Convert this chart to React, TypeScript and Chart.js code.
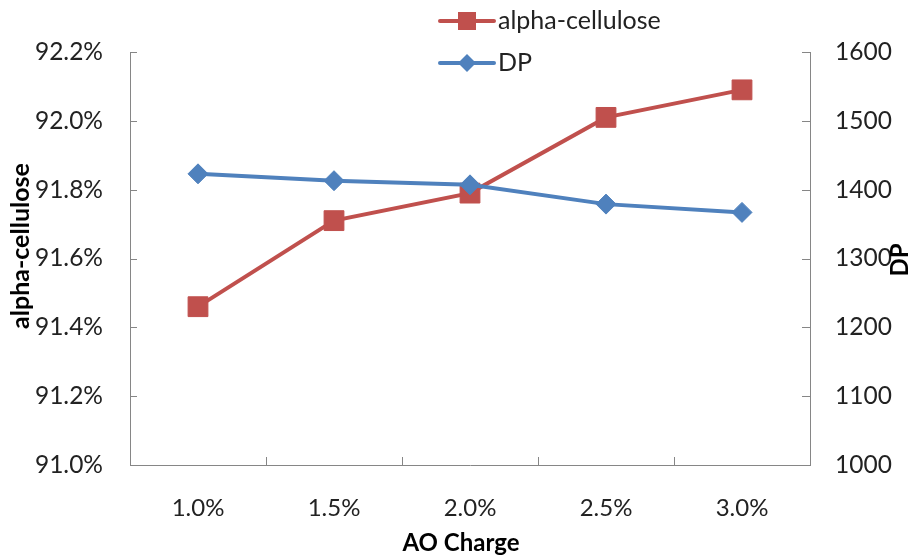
import React, { useEffect, useRef } from "react";
import { Chart, registerables } from "chart.js";

Chart.register(...registerables);

const categories = ["1.0%", "1.5%", "2.0%", "2.5%", "3.0%"];
const alphaCellulose = [91.46, 91.71, 91.79, 92.01, 92.09];
const dp = [1423, 1413, 1407, 1379, 1367];
const leftTicks = { min: 91.0, max: 92.2, step: 0.2 };
const rightTicks = { min: 1000, max: 1600, step: 100 };

const RED = "#C0504D";
const BLUE = "#4F81BD";
const AXIS = "#868686";
const TEXT = "#222222";
const FONT = "Lato, 'Open Sans', sans-serif";

const decorPlugin = {
  id: "decor",
  afterDraw(chart: any) {
    const ctx = chart.ctx;
    const a = chart.chartArea;
    ctx.save();
    // inward tick marks
    ctx.strokeStyle = AXIS;
    ctx.lineWidth = 1;
    const n = categories.length;
    for (let i = 1; i < n; i++) {
      const px = Math.round(a.left + (i * (a.right - a.left)) / n) + 0.5;
      ctx.beginPath();
      ctx.moveTo(px, a.bottom);
      ctx.lineTo(px, a.bottom - 8);
      ctx.stroke();
    }
    const ys = chart.scales.y;
    ys.ticks.forEach((t: any) => {
      const py = Math.round(ys.getPixelForValue(t.value)) + 0.5;
      ctx.beginPath();
      ctx.moveTo(a.left, py);
      ctx.lineTo(a.left + 7, py);
      ctx.stroke();
    });
    const y1 = chart.scales.y1;
    y1.ticks.forEach((t: any) => {
      const py = Math.round(y1.getPixelForValue(t.value)) + 0.5;
      ctx.beginPath();
      ctx.moveTo(a.right, py);
      ctx.lineTo(a.right - 8, py);
      ctx.stroke();
    });

    // axis titles
    ctx.fillStyle = "#000";
    ctx.font = `bold 24px ${FONT}`;
    ctx.textAlign = "center";
    ctx.textBaseline = "middle";
    ctx.fillText("AO Charge", 461, 543);
    ctx.save();
    ctx.translate(21, 246);
    ctx.rotate(-Math.PI / 2);
    ctx.font = `bold 25px ${FONT}`;
    ctx.fillText("alpha-cellulose", 0, 0);
    ctx.restore();
    ctx.save();
    ctx.translate(900, 260);
    ctx.rotate(-Math.PI / 2);
    ctx.fillText("DP", 0, 0);
    ctx.restore();

    // legend
    const items = [
      { label: chart.data.datasets[0].label, color: RED, style: "rect", y: 21 },
      { label: chart.data.datasets[1].label, color: BLUE, style: "diamond", y: 63 },
    ];
    items.forEach((it) => {
      ctx.strokeStyle = it.color;
      ctx.fillStyle = it.color;
      ctx.lineWidth = 4;
      ctx.lineCap = "round";
      ctx.beginPath();
      ctx.moveTo(440, it.y);
      ctx.lineTo(494, it.y);
      ctx.stroke();
      const cx = 467;
      ctx.beginPath();
      if (it.style === "rect") {
        ctx.rect(cx - 9, it.y - 9, 18, 18);
      } else {
        ctx.moveTo(cx, it.y - 9);
        ctx.lineTo(cx + 9, it.y);
        ctx.lineTo(cx, it.y + 9);
        ctx.lineTo(cx - 9, it.y);
        ctx.closePath();
      }
      ctx.fill();
      ctx.fillStyle = TEXT;
      ctx.font = `25px ${FONT}`;
      ctx.textAlign = "left";
      ctx.textBaseline = "middle";
      ctx.fillText(it.label, 498, it.y);
    });
    ctx.restore();
  },
};

export default function App() {
  const ref = useRef<HTMLCanvasElement | null>(null);
  useEffect(() => {
    if (!ref.current) return;
    const chart = new Chart(ref.current, {
      type: "line",
      data: {
        labels: categories,
        datasets: [
          {
            label: "alpha-cellulose",
            data: alphaCellulose,
            yAxisID: "y",
            borderColor: RED,
            backgroundColor: RED,
            borderWidth: 4,
            pointStyle: "rect",
            pointRadius: 14,
            pointBorderWidth: 1,
            pointBackgroundColor: RED,
            pointBorderColor: RED,
            order: 1,
          },
          {
            label: "DP",
            data: dp,
            yAxisID: "y1",
            borderColor: BLUE,
            backgroundColor: BLUE,
            borderWidth: 4,
            pointStyle: "rectRot",
            pointRadius: 10,
            pointBorderWidth: 1,
            pointBackgroundColor: BLUE,
            pointBorderColor: BLUE,
            order: 0,
          },
        ],
      },
      options: {
        animation: false,
        responsive: false,
        maintainAspectRatio: false,
        layout: { padding: { top: 52, left: 0, right: 0, bottom: 0 } },
        plugins: { legend: { display: false }, tooltip: { enabled: false } },
        scales: {
          x: {
            type: "category",
            offset: true,
            grid: { display: false, drawTicks: false },
            border: { display: true, color: AXIS, width: 1 },
            ticks: { color: TEXT, font: { family: FONT, size: 24 }, padding: 29, maxRotation: 0 },
            afterFit: (s: any) => {
              s.height = 90;
            },
          },
          y: {
            position: "left",
            min: leftTicks.min,
            max: leftTicks.max,
            grid: { display: false, drawTicks: false },
            border: { display: true, color: AXIS, width: 1 },
            ticks: {
              stepSize: leftTicks.step,
              color: TEXT,
              font: { family: FONT, size: 24.5 },
              padding: 27,
              callback: (v: any) => Number(v).toFixed(1) + "%",
            },
            afterFit: (s: any) => {
              s.width = 130;
            },
          },
          y1: {
            position: "right",
            min: rightTicks.min,
            max: rightTicks.max,
            grid: { display: false, drawTicks: false },
            border: { display: true, color: AXIS, width: 1 },
            ticks: {
              stepSize: rightTicks.step,
              color: TEXT,
              font: { family: FONT, size: 24.5 },
              padding: 25,
              callback: (v: any) => String(Math.round(Number(v))),
            },
            afterFit: (s: any) => {
              s.width = 102;
            },
          },
        },
      },
      plugins: [decorPlugin],
    });
    return () => chart.destroy();
  }, []);
  return (
    <div style={{ position: "absolute", left: 0, top: 0, width: 912, height: 555, background: "#fff" }}>
      <canvas ref={ref} width={912} height={555} style={{ width: 912, height: 555 }} />
    </div>
  );
}
